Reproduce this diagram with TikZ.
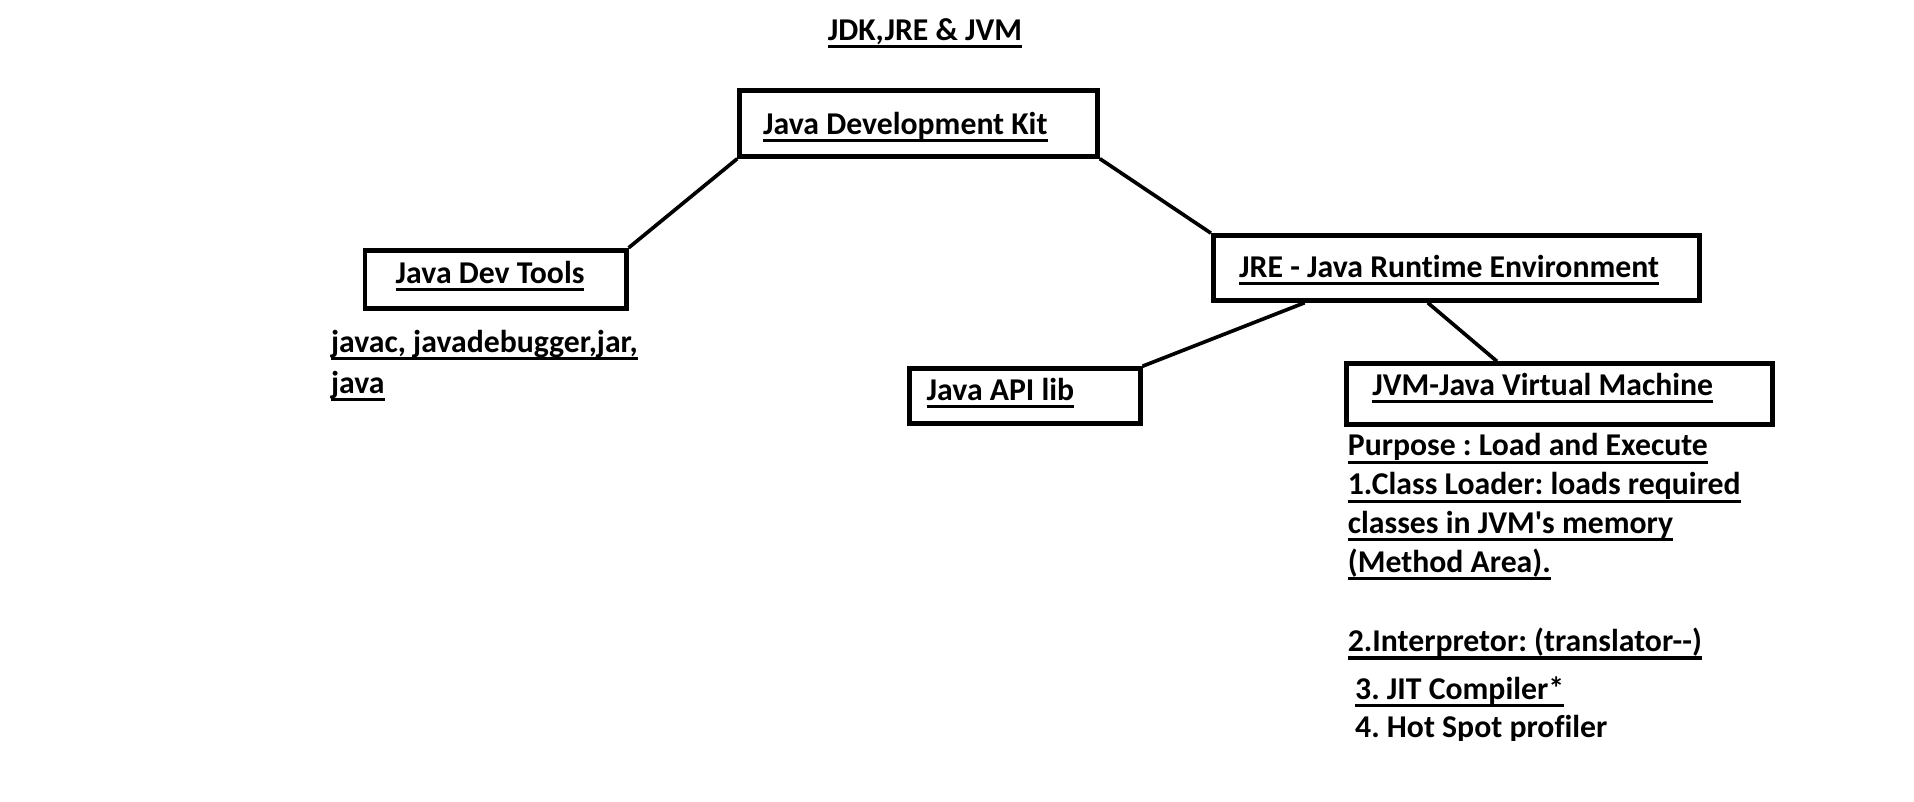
\documentclass[tikz,border=0pt]{standalone}
\usepackage{fontspec}
\setmainfont{Carlito}[Ligatures={NoCommon,TeXOff}]
\usetikzlibrary{calc}
\frenchspacing
\newcommand\ulx[1]{\setbox0\hbox{#1}\rlap{\rule[-6.3pt]{\wd0}{2.5pt}}\box0}
\begin{document}
\begin{tikzpicture}[x=1pt,y=-1pt,
  box/.style={draw, line width=4pt, inner sep=0pt, anchor=north west},
  lbl/.style={anchor=base west, inner sep=0pt, font=\fontsize{26}{32}\selectfont\bfseries},
  link/.style={line width=3pt}]
\useasboundingbox[fill=white] (0,0) rectangle (1568,657);

% title
\node[lbl] (title) at (678,33) {\ulx{JDK,JRE \& JVM}};

% boxes
\node[box, minimum width=293pt, minimum height=54pt] (jdk) at (604,72) {};
\node[box, minimum width=214pt, minimum height=48pt] (tools) at (297,203) {};
\node[box, minimum width=398pt, minimum height=53pt] (jre) at (992,191) {};
\node[box, minimum width=189pt, minimum height=45pt] (api) at (743,300) {};
\node[box, minimum width=349pt, minimum height=50pt] (jvm) at (1101,296) {};

% box labels
\node[lbl] (jdkt) at (625,110) {\ulx{Java Development Kit}};
\node[lbl] (toolst) at (324,232) {\ulx{Java Dev Tools}};
\node[lbl] (jret) at (1015,227) {\ulx{JRE - Java Runtime Environment}};
\node[lbl] (apit) at (759,328) {\ulx{Java API lib}};
\node[lbl] (jvmt) at (1124,324) {\ulx{JVM-Java Virtual Machine}};

% free texts
\node[lbl] (tl1) at (271,289) {\ulx{javac, javadebugger,jar,}};
\node[lbl] (tl2) at (271,322) {\ulx{java}};

\node[lbl] (j1) at (1104,373.5) {\ulx{Purpose : Load and Execute}};
\node[lbl] (j2) at (1104,405.5) {\ulx{1.Class Loader: loads required}};
\node[lbl] (j3) at (1104,437) {\ulx{classes in JVM's memory}};
\node[lbl] (j4) at (1104,469) {\ulx{(Method Area).}};
\node[lbl] (j5) at (1104,534) {\ulx{2.Interpretor: (translator--)}};
\node[lbl] (j6) at (1110,573) {\ulx{3. JIT Compiler*}};
\begin{scope}
\clip (1090,580) rectangle (1500,607);
\node[lbl] (j7) at (1110,604) {4. Hot Spot profiler};
\end{scope}

% connectors
\draw[link] (jdk.south west) -- (tools.north east);
\draw[link] (jdk.south east) -- (jre.north west);
\draw[link] ($(jre.south west)!0.191!(jre.south east)$) -- (api.north east);
\draw[link] ($(jre.south west)!0.442!(jre.south east)$) -- ($(jvm.north west)!0.355!(jvm.north east)$);
\end{tikzpicture}
\end{document}
